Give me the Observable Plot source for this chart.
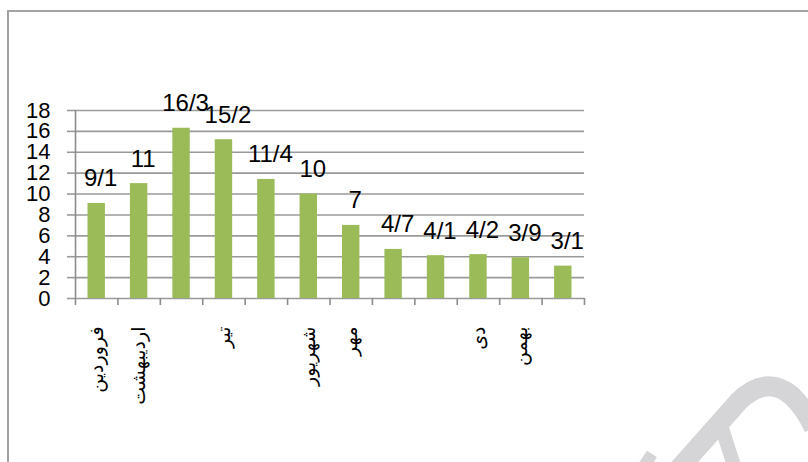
<!DOCTYPE html>
<html>
<head>
<meta charset="utf-8">
<script src="https://cdn.jsdelivr.net/npm/d3@7"></script>
<script src="https://cdn.jsdelivr.net/npm/@observablehq/plot@0.6"></script>
<style>
  html, body { margin: 0; padding: 0; background: #fff; overflow: hidden; }
  #wrap { position: relative; width: 808px; height: 462px; overflow: hidden; }
  #frame { position: absolute; left: 7px; top: 10px; width: 900px; height: 600px;
           border-left: 2px solid #a3a3a3; border-top: 2px solid #a3a3a3; }
  #chart { position: absolute; left: 0; top: 0; }
  #wm { position: absolute; left: 0; top: 0; }
</style>
</head>
<body>
<div id="wrap">
  <div id="frame"></div>
  <svg id="wm" width="808" height="462">
    <path d="M676,472 L738,402 Q766,374 792,396 Q806,410 814,428" fill="none" stroke="#d5d5d7" stroke-width="20"/>
    <path d="M718,416 L736,472" fill="none" stroke="#d5d5d7" stroke-width="14"/>
    <path d="M640,472 L652,454" fill="none" stroke="#d5d5d7" stroke-width="12"/>
  </svg>
  <div id="chart"></div>
</div>
<script>
// Persian month categories
const months = ["فروردین", "اردیبهشت", "خرداد", "تیر", "مرداد", "شهریور", "مهر", "آبان", "آذر", "دی", "بهمن", "اسفند"];
// Axis labels as shown in the reference (some are not rendered there)
const xLabels = ["فروردین", "اردیبهشت", "", "تیر", "", "شهریور", "مهر", "", "", "دی", "بهمن", ""];
// Values
const values = [9.1, 11, 16.3, 15.2, 11.4, 10, 7, 4.7, 4.1, 4.2, 3.9, 3.1];
// Value labels (Persian decimal separator)
const valueLabels = ["9/1", "11", "16/3", "15/2", "11/4", "10", "7", "4/7", "4/1", "4/2", "3/9", "3/1"];
// Y tick values
const yTicks = [0, 2, 4, 6, 8, 10, 12, 14, 16, 18];

const data = months.map((m, i) => ({i, month: m, value: values[i], label: valueLabels[i]}));
const boundaries = d3.range(0, months.length + 1);
const centers = d3.range(0, months.length).map(i => i + 0.5);

const chart = Plot.plot({
  width: 808,
  height: 462,
  marginLeft: 75,
  marginRight: 224,
  marginTop: 110,
  marginBottom: 164,
  style: {fontFamily: "'Liberation Sans', Arial, 'DejaVu Sans', sans-serif", background: "transparent"},
  x: {type: "linear", domain: [0, months.length], label: null},
  y: {domain: [0, 18], label: null},
  marks: [
    Plot.ruleY(yTicks, {y: d => d, stroke: "#9a9a9a", strokeWidth: 1.6}),
    Plot.axisY({ticks: yTicks, label: null, tickSize: 8, tickPadding: 17, fontSize: 22, stroke: "#9a9a9a", strokeWidth: 1.6, fill: "#000", tickFormat: d => String(d)}),
    Plot.ruleX([0], {y1: 0, y2: 18, stroke: "#8c8c8c", strokeWidth: 1.6}),
    Plot.axisX({ticks: boundaries, label: null, tickSize: 7, tickFormat: () => "", stroke: "#8c8c8c", strokeWidth: 1.6}),
    Plot.axisX({ticks: centers, label: null, tickSize: 0, tickRotate: -90, tickPadding: 28, fontSize: 19, fill: "#000",
                fontFamily: "'DejaVu Sans', sans-serif",
                tickFormat: d => xLabels[Math.round(d - 0.5)]}),
    Plot.rectY(data, {x1: "i", x2: d => d.i + 1, y: "value", fill: "#9bbb59", insetLeft: 12.5, insetRight: 12.5}),
    Plot.text(data, {x: d => d.i + 0.5, y: "value", text: "label", dx: 4, dy: -17, lineAnchor: "bottom", fontSize: 24, fill: "#000"})
  ]
});
document.getElementById("chart").appendChild(chart);
</script>
</body>
</html>
